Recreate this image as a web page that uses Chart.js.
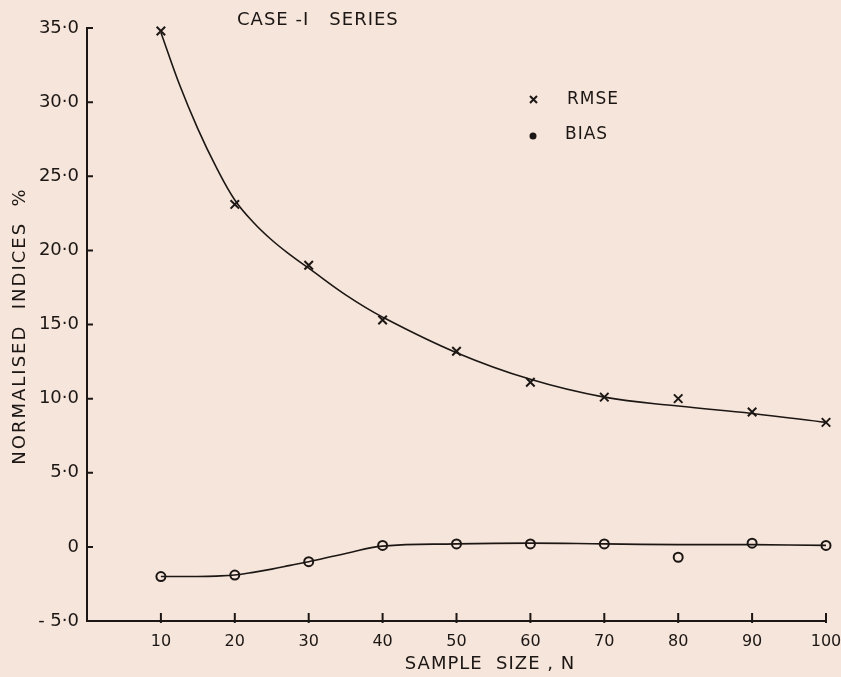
<!DOCTYPE html>
<html>
<head>
<meta charset="utf-8">
<script src="https://cdn.jsdelivr.net/npm/chart.js@4"></script>
<style>
  html, body { margin: 0; padding: 0; background: #f6e5db; }
</style>
</head>
<body>
<canvas id="chart" width="841" height="677"></canvas>
<script>
// sample sizes N and the normalised indices (%)
var sampleSizes = [10, 20, 30, 40, 50, 60, 70, 80, 90, 100];
var rmse = [34.8, 23.1, 19.0, 15.3, 13.2, 11.1, 10.1, 10.0, 9.1, 8.4];
var bias = [-2.0, -1.9, -1.0, 0.1, 0.2, 0.2, 0.2, -0.7, 0.25, 0.1];
// hand-fitted smooth curves, read at these N
var fitSizes = [10, 12.5, 15, 17.5, 20, 22.5, 25, 27.5, 30, 35, 40, 50, 60, 70, 80, 90, 100];
var rmseFit = [34.7, 31.2, 28.2, 25.6, 23.4, 21.9, 20.7, 19.7, 18.8, 17.0, 15.5, 13.1, 11.3, 10.1, 9.5, 9.0, 8.4];
var biasFit = [-2.0, -2.0, -2.0, -1.97, -1.9, -1.72, -1.5, -1.25, -1.0, -0.45, 0.05, 0.2, 0.25, 0.2, 0.15, 0.15, 0.1];
var yTickLabels = ['- 5·0', '0', '5·0', '10·0', '15·0', '20·0', '25·0', '30·0', '35·0'];

var ink = '#1c1714';
var paper = '#f6e5db';
var font = '"DejaVu Sans", sans-serif';

function pts(xs, ys) {
  return xs.map(function (n, i) { return { x: n, y: ys[i] }; });
}

// titles, legend and inward tick marks
var decorations = {
  id: 'decorations',
  afterDraw: function (chart) {
    var ctx = chart.ctx, a = chart.chartArea;
    var xs = chart.scales.x, ys = chart.scales.y;
    ctx.save();
    ctx.strokeStyle = ink;
    ctx.lineWidth = 2;
    ctx.beginPath();
    xs.ticks.forEach(function (t) {
      var px = xs.getPixelForValue(t.value);
      ctx.moveTo(px, a.bottom + 2);
      ctx.lineTo(px, a.bottom - 8);
    });
    ys.ticks.forEach(function (t) {
      var py = ys.getPixelForValue(t.value);
      ctx.moveTo(a.left - 1, py);
      ctx.lineTo(a.left + 6, py);
    });
    ctx.stroke();

    ctx.fillStyle = ink;
    ctx.textBaseline = 'middle';
    ctx.font = '18px ' + font;
    ctx.letterSpacing = '1px';
    ctx.textAlign = 'left';
    ctx.fillText('CASE -I   SERIES', 237, 20);

    ctx.font = '17px ' + font;
    ctx.fillText('RMSE', 567, 100);
    ctx.fillText('BIAS', 565, 135);

    ctx.font = '18px ' + font;
    ctx.textAlign = 'center';
    ctx.fillText('SAMPLE  SIZE , N', 490, 664);

    ctx.save();
    ctx.letterSpacing = '2px';
    ctx.translate(20, 326);
    ctx.rotate(-Math.PI / 2);
    ctx.fillText('NORMALISED  INDICES  %', 0, 0);
    ctx.restore();

    // legend symbols
    ctx.lineWidth = 2;
    ctx.beginPath();
    ctx.moveTo(530, 96); ctx.lineTo(537, 103);
    ctx.moveTo(537, 96); ctx.lineTo(530, 103);
    ctx.stroke();
    ctx.beginPath();
    ctx.arc(533, 136, 3.5, 0, Math.PI * 2);
    ctx.fill();
    ctx.restore();
  }
};

new Chart(document.getElementById('chart'), {
  type: 'scatter',
  data: {
    datasets: [
      {
        label: 'RMSE fit', data: pts(fitSizes, rmseFit), showLine: true,
        borderColor: ink, borderWidth: 1.6, pointRadius: 0, tension: 0.4
      },
      {
        label: 'BIAS fit', data: pts(fitSizes, biasFit), showLine: true,
        borderColor: ink, borderWidth: 1.6, pointRadius: 0, tension: 0.4
      },
      {
        label: 'RMSE', data: pts(sampleSizes, rmse), showLine: false,
        pointStyle: 'crossRot', pointRadius: 6, borderColor: ink, borderWidth: 2
      },
      {
        label: 'BIAS', data: pts(sampleSizes, bias), showLine: false,
        pointStyle: 'circle', pointRadius: 4.5, borderColor: ink,
        backgroundColor: paper, borderWidth: 2
      }
    ]
  },
  options: {
    responsive: false,
    animation: false,
    clip: false,
    layout: { padding: { left: 0, right: 15, top: 28, bottom: 0 } },
    plugins: { legend: { display: false }, tooltip: { enabled: false } },
    scales: {
      x: {
        type: 'linear', min: 0, max: 100,
        afterBuildTicks: function (s) {
          s.ticks = sampleSizes.map(function (n) { return { value: n }; });
        },
        afterFit: function (s) { s.height = 56; s.paddingRight = 0; s.paddingLeft = 0; },
        grid: { display: false },
        border: { display: true, color: ink, width: 2 },
        ticks: { color: ink, font: { family: font, size: 16 }, padding: 3, maxRotation: 0 }
      },
      y: {
        type: 'linear', min: -5, max: 35,
        ticks: {
          stepSize: 5, color: ink, padding: 0,
          font: { family: font, size: 18 },
          callback: function (v) { return yTickLabels[(v + 5) / 5]; }
        },
        afterFit: function (s) { s.width = 87; },
        grid: { display: false },
        border: { display: true, color: ink, width: 2 }
      }
    }
  },
  plugins: [decorations]
});
</script>
</body>
</html>
